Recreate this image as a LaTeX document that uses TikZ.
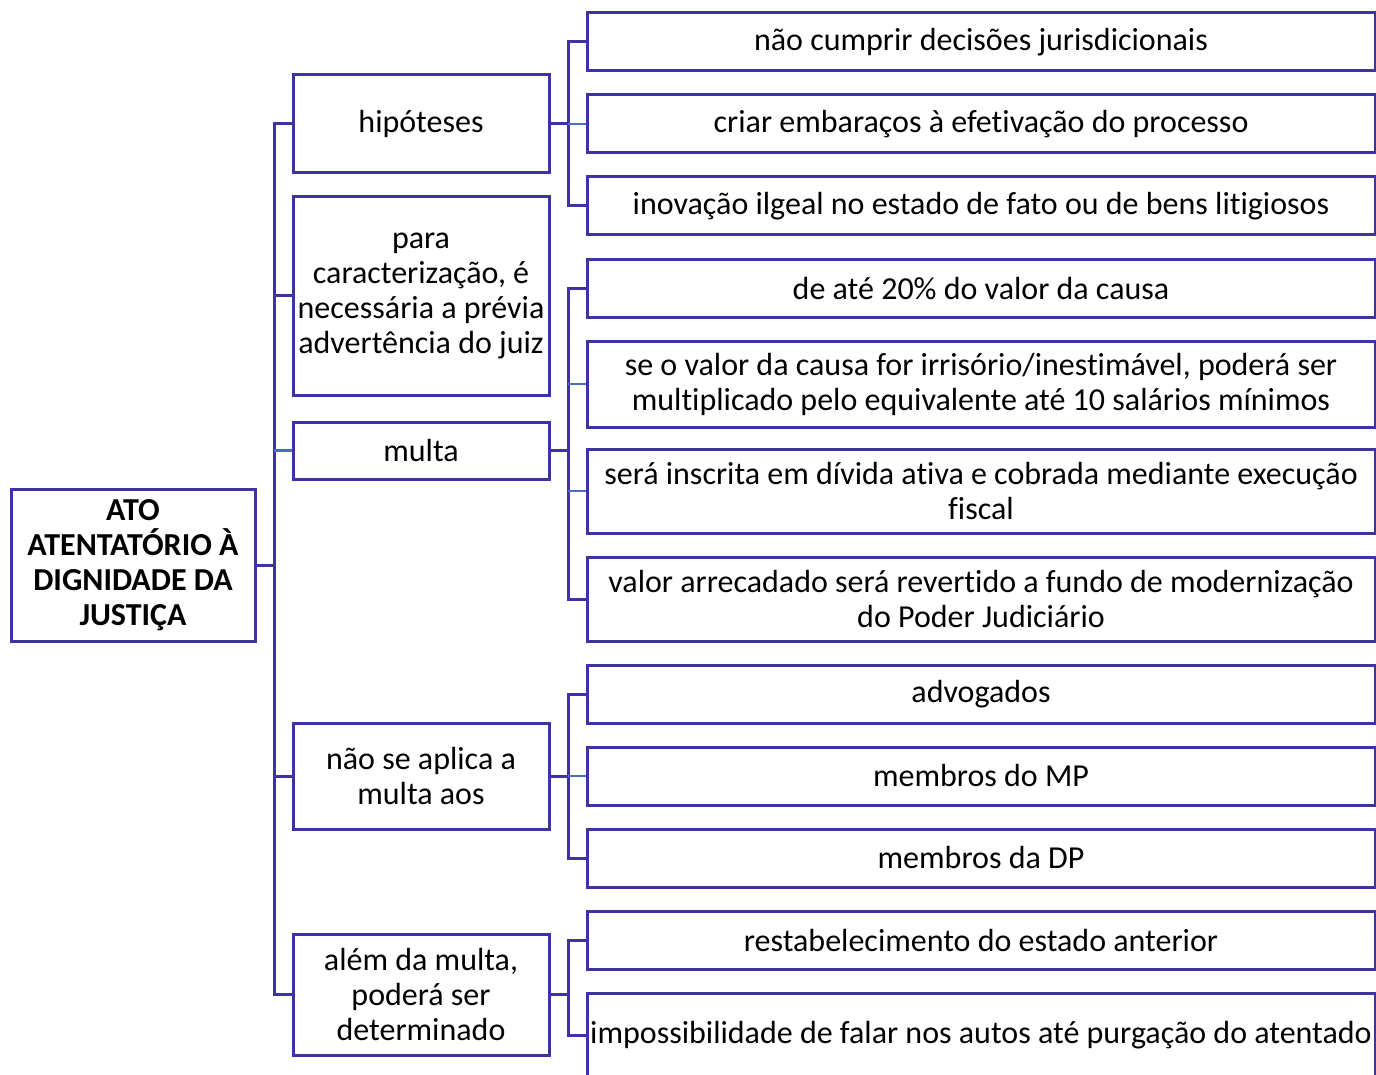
\documentclass[tikz,border=0pt]{standalone}
\usepackage{fontspec}
\setmainfont[Ligatures={NoCommon}]{Carlito}
\definecolor{bord}{HTML}{3F33A3}
\definecolor{stub}{HTML}{4A6FC0}
\begin{document}
\begin{tikzpicture}[x=1pt,y=-1pt,
  box/.style={draw=bord,line width=3pt,fill=white,inner sep=0pt,align=center,font=\fontsize{32}{35}\selectfont},
  lone/.style={box,minimum width=256pt},
  ltwo/.style={box,minimum width=788pt},
  conn/.style={draw=bord,line width=3pt},
  straight/.style={draw=stub,line width=2.6pt}]
\useasboundingbox (0,0) rectangle (1376,1075);
\coordinate (t) at (274,565);
\coordinate (hb) at (568,124);
\coordinate (mb) at (568,450.5);
\coordinate (nb) at (568,776);
\coordinate (ab) at (568,994.5);
% root
\node[box,minimum width=244pt,minimum height=152pt,font=\fontsize{32}{35}\bfseries\selectfont] (root) at (133,565) {ATO\\ATENTATÓRIO À\\DIGNIDADE DA\\JUSTIÇA};
% level 1
\node[lone,minimum height=98pt] (hip) at (421,124) {hipóteses};
\node[lone,minimum height=198pt] (car) at (421,296) {para\\caracterização, é\\necessária a prévia\\advertência do juiz};
\node[lone,minimum height=57pt] (mul) at (421,450.5) {multa};
\node[lone,minimum height=106pt] (nsa) at (421,776) {não se aplica a\\multa aos};
\node[lone,minimum height=121pt] (alem) at (421,994.5) {além da multa,\\poderá ser\\determinado};
% level 2
\node[ltwo,minimum height=58pt] (c1) at (981,42) {não cumprir decisões jurisdicionais};
\node[ltwo,minimum height=58pt] (c2) at (981,124) {criar embaraços à efetivação do processo};
\node[ltwo,minimum height=58pt] (c3) at (981,206) {inovação ilgeal no estado de fato ou de bens litigiosos};
\node[ltwo,minimum height=58pt] (m1) at (981,289) {de até 20\% do valor da causa};
\node[ltwo,minimum height=86pt] (m2) at (981,384) {se o valor da causa for irrisório/inestimável, poderá ser\\multiplicado pelo equivalente até 10 salários mínimos};
\node[ltwo,minimum height=84pt] (m3) at (981,491) {será inscrita em dívida ativa e cobrada mediante execução\\fiscal};
\node[ltwo,minimum height=84pt] (m4) at (981,599) {valor arrecadado será revertido a fundo de modernização\\do Poder Judiciário};
\node[ltwo,minimum height=58pt] (n1) at (981,694) {advogados};
\node[ltwo,minimum height=58pt] (n2) at (981,776) {membros do MP};
\node[ltwo,minimum height=58pt] (n3) at (981,858) {membros da DP};
\node[ltwo,minimum height=58pt] (a1) at (981,940) {restabelecimento do estado anterior};
\node[ltwo,minimum height=84pt] (a2) at (981,1035) {impossibilidade de falar nos autos até purgação do atentado};
% connectors
\draw[conn] (root.east) -- (t);
\draw[conn] (t) |- (hip.west);
\draw[conn] (t) |- (car.west);
\draw[straight] (t |- mul.west) -- (mul.west);
\draw[conn] (t) |- (alem.west);
\draw[conn] (t) |- (nsa.west);
\draw[conn] (hip.east) -- (hb);
\draw[conn] (hb) |- (c1.west);
\draw[conn] (hb) |- (c3.west);
\draw[straight] (hb) -- (c2.west);
\draw[conn] (mul.east) -- (mb);
\draw[conn] (mb) |- (m1.west);
\draw[conn] (mb) |- (m4.west);
\draw[straight] (mb |- m2.west) -- (m2.west);
\draw[straight] (mb |- m3.west) -- (m3.west);
\draw[conn] (nsa.east) -- (nb);
\draw[conn] (nb) |- (n1.west);
\draw[conn] (nb) |- (n3.west);
\draw[straight] (nb) -- (n2.west);
\draw[conn] (alem.east) -- (ab);
\draw[conn] (ab) |- (a1.west);
\draw[conn] (ab) |- (a2.west);
\end{tikzpicture}
\end{document}
